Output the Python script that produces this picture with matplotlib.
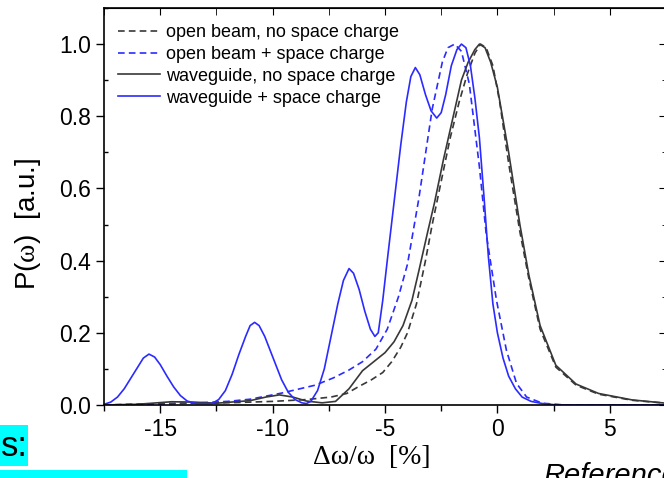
import matplotlib
matplotlib.use("Agg")
from matplotlib import pyplot as plt
from matplotlib.patches import Rectangle
from matplotlib.ticker import MultipleLocator

plt.rcParams['font.family'] = ['Liberation Sans', 'DejaVu Sans']
plt.rcParams['mathtext.fontset'] = 'custom'
plt.rcParams['mathtext.rm'] = 'Liberation Serif'

# open beam, no space charge (black dashed)
ob_x = [-17.5, -15.5, -13.5, -11.5, -10, -8.5, -7.4, -6.7, -6.2, -5.6, -5.1, -4.7, -4.3, -4.0, -3.6,
        -3.2, -2.9, -2.5, -2.1, -1.7, -1.35, -1.0, -0.75, -0.5, -0.2, 0.1, 0.5, 1.0, 1.4, 1.9, 2.6,
        3.5, 4.5, 6.0, 7.5]
ob_y = [0.0, 0.003, 0.005, 0.007, 0.01, 0.015, 0.022, 0.032, 0.05, 0.07, 0.09, 0.12, 0.16, 0.2, 0.28,
        0.4, 0.5, 0.62, 0.74, 0.84, 0.915, 0.975, 1.0, 0.99, 0.94, 0.84, 0.67, 0.48, 0.35, 0.21, 0.105,
        0.055, 0.03, 0.013, 0.005]

# open beam + space charge (blue dashed)
obsc_x = [-17.5, -15, -13.3, -12, -11, -9.6, -8.1, -7.3, -6.6, -6.0, -5.4, -4.9, -4.4, -4.0, -3.5,
          -2.9, -2.45, -2.2, -1.9, -1.6, -1.25, -0.8, -0.5, -0.04, 0.4, 0.85, 1.3, 2.0, 3.0, 7.5]
obsc_y = [0.0, 0.003, 0.006, 0.01, 0.016, 0.033, 0.055, 0.075, 0.097, 0.12, 0.155, 0.21, 0.3, 0.39, 0.57,
          0.82, 0.95, 0.99, 1.0, 0.98, 0.89, 0.66, 0.475, 0.29, 0.152, 0.06, 0.022, 0.005, 0.0, 0.0]

# waveguide, no space charge (black solid)
wg_x = [-17.5, -16, -14.5, -13.5, -12.5, -11, -10.3, -9.7, -9.1, -8.5, -7.8, -7.2, -6.6, -6.0, -5.5,
        -5.0, -4.6, -4.2, -3.8, -3.5, -3.1, -2.8, -2.4, -2.0, -1.6, -1.3, -1.0, -0.8, -0.55, -0.3, 0.0,
        0.5, 1.0, 1.4, 1.9, 2.6, 3.5, 4.5, 6.0, 7.5]
wg_y = [0.0, 0.002, 0.009, 0.008, 0.005, 0.012, 0.022, 0.028, 0.022, 0.011, 0.006, 0.01, 0.045, 0.095, 0.12,
        0.145, 0.175, 0.22, 0.29, 0.37, 0.48, 0.56, 0.68, 0.79, 0.9, 0.95, 0.985, 1.0, 0.99, 0.95, 0.88,
        0.7, 0.5, 0.36, 0.22, 0.11, 0.058, 0.032, 0.014, 0.005]

# waveguide + space charge (blue solid)
wgsc_x = [-17.5, -17.2, -16.9, -16.6, -16.3, -16.0, -15.75, -15.5, -15.25, -15.0, -14.7, -14.4, -14.1,
          -13.8, -13.4, -12.7, -12.4, -12.1, -11.8, -11.5, -11.2, -11.0, -10.8, -10.6, -10.35, -10.1,
          -9.85, -9.6, -9.3, -9.0, -8.7, -8.5, -8.3, -8.0, -7.7, -7.4, -7.1, -6.85, -6.6, -6.4, -6.15,
          -5.9, -5.65, -5.45, -5.3, -5.1, -4.9, -4.6, -4.3, -4.05, -3.85, -3.65, -3.45, -3.2, -2.95,
          -2.7, -2.5, -2.3, -2.05, -1.8, -1.6, -1.4, -1.2, -1.0, -0.8, -0.6, -0.4, -0.2, 0.0, 0.25,
          0.5, 0.8, 1.1, 1.5, 2.0, 2.5, 3.0, 7.5]
wgsc_y = [0.002, 0.008, 0.022, 0.045, 0.075, 0.105, 0.13, 0.141, 0.133, 0.112, 0.08, 0.05, 0.026,
          0.011, 0.004, 0.004, 0.015, 0.04, 0.085, 0.14, 0.19, 0.22, 0.229, 0.22, 0.19, 0.15,
          0.11, 0.07, 0.035, 0.015, 0.006, 0.004, 0.01, 0.04, 0.1, 0.19, 0.28, 0.345, 0.378, 0.365, 0.32,
          0.26, 0.21, 0.19, 0.2, 0.29, 0.4, 0.56, 0.72, 0.84, 0.91, 0.935, 0.915, 0.86, 0.815,
          0.795, 0.81, 0.86, 0.94, 0.985, 1.0, 0.99, 0.94, 0.85, 0.74, 0.58, 0.41, 0.28, 0.2, 0.13,
          0.08, 0.045, 0.022, 0.01, 0.004, 0.001, 0.0, 0.0]

labels = ['open beam, no space charge', 'open beam + space charge',
          'waveguide, no space charge', 'waveguide + space charge']
xticks = [-15, -10, -5, 0, 5]
yticks = [0.0, 0.2, 0.4, 0.6, 0.8, 1.0]

dark = '#383838'
blue = '#2b2bff'

fig = plt.figure(figsize=(6.64, 4.78), dpi=100)
ax = fig.add_axes([104/664, 73/478, 562/664, 397/478])

ax.plot(ob_x, ob_y, color=dark, lw=1.2, dashes=(4, 2.5), label=labels[0])
ax.plot(obsc_x, obsc_y, color=blue, lw=1.2, dashes=(4, 2.5), label=labels[1])
ax.plot(wg_x, wg_y, color=dark, lw=1.2, label=labels[2])
ax.plot(wgsc_x, wgsc_y, color=blue, lw=1.2, label=labels[3])

ax.set_xlim(-17.5, 7.5)
ax.set_ylim(0, 1.1)
ax.set_xticks(xticks)
ax.set_xticklabels(['%g' % t for t in xticks])
ax.set_yticks(yticks)
ax.set_yticklabels(['%.1f' % t for t in yticks])
ax.xaxis.set_minor_locator(MultipleLocator(2.5))
ax.yaxis.set_minor_locator(MultipleLocator(0.1))
ax.tick_params(axis='both', which='major', labelsize=16.5, direction='out', length=6, width=1)
ax.tick_params(axis='both', which='minor', direction='out', length=4, width=1)
ax.tick_params(axis='y', which='minor', direction='in', length=3)
for sp in ax.spines.values():
    sp.set_linewidth(1.2)

# inward ticks on the top and right edges
sec_x = ax.secondary_xaxis('top')
sec_x.set_xticks(xticks)
sec_x.xaxis.set_minor_locator(MultipleLocator(2.5))
sec_x.tick_params(which='both', direction='in', length=5, labeltop=False)
sec_y = ax.secondary_yaxis('right')
sec_y.set_yticks(yticks)
sec_y.yaxis.set_minor_locator(MultipleLocator(0.1))
sec_y.tick_params(which='major', direction='in', length=5, labelright=False)
sec_y.tick_params(which='minor', direction='in', length=3, labelright=False)

ax.legend(loc='upper left', frameon=False, fontsize=13, handlelength=2.35,
          handletextpad=0.33, labelspacing=0.27, borderpad=0, borderaxespad=0,
          bbox_to_anchor=(14/562, 1 - 16/397))

fig.text(28/664, 1 - 224/478, r'P($\mathrm{\omega}$)  [a.u.]', rotation=90,
         ha='center', va='center', fontsize=20)
fig.text(372/664, 1 - 458/478, 'Δω/ω  [%]', family='Liberation Serif',
         ha='center', va='center', fontsize=20)

# slide fragments around the chart
fig.patches.append(Rectangle((0, 1 - 466/478), 28/664, 41/478, transform=fig.transFigure,
                             facecolor='cyan', edgecolor='none'))
fig.text(1/664, 1 - 446/478, 's:', ha='left', va='center', fontsize=25)
fig.patches.append(Rectangle((0, 0), 187/664, 8/478, transform=fig.transFigure,
                             facecolor='cyan', edgecolor='none'))
fig.text(543/664, 1 - 462/478, 'Reference', style='italic', ha='left', va='top', fontsize=21)

plt.savefig('out.png', dpi=100)
